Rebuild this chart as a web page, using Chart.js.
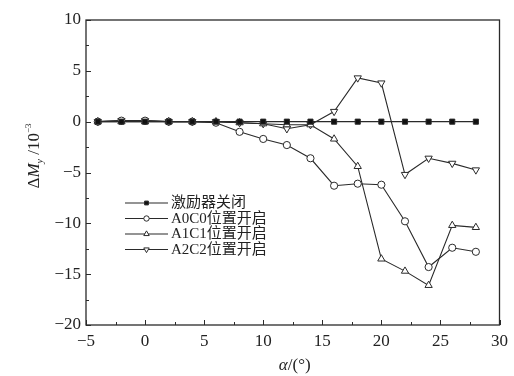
<!DOCTYPE html>
<html>
<head>
<meta charset="utf-8">
<script src="https://cdn.jsdelivr.net/npm/chart.js@4/dist/chart.umd.min.js"></script>
<style>
  html, body { margin: 0; padding: 0; background: #fff; }
  #wrap { width: 514px; height: 376px; }
</style>
</head>
<body>
<div id="wrap"><canvas id="c" width="514" height="376"></canvas></div>
<script>
// Angle of attack (deg)
const alpha = [-4, -2, 0, 2, 4, 6, 8, 10, 12, 14, 16, 18, 20, 22, 24, 26, 28];

// Rolling-moment increment, units of 1e-3
const actuatorOff = [0, 0, 0, 0, 0, 0, 0, 0, 0, 0, 0, 0, 0, 0, 0, 0, 0];
const a0c0 = [0, 0.1, 0.1, 0, 0, -0.1, -1.0, -1.7, -2.3, -3.6, -6.3, -6.1, -6.2, -9.8, -14.3, -12.4, -12.8];
const a1c1 = [0, 0, 0, 0, 0, 0, -0.1, -0.2, -0.3, -0.3, -1.7, -4.4, -13.5, -14.7, -16.1, -10.2, -10.4];
const a2c2 = [0, 0.1, 0.1, 0, 0, 0, -0.1, -0.2, -0.7, -0.3, 1.0, 4.3, 3.8, -5.2, -3.6, -4.1, -4.75];

const seriesNames = ['激励器关闭', 'A0C0位置开启', 'A1C1位置开启', 'A2C2位置开启'];

const xTicks = { min: -5, max: 30, step: 5 };
const yTicks = { min: -20, max: 10, step: 5 };

const LINE = '#2a2a2a';
const FONT = "'Liberation Serif'";
const CJK = "'Liberation Serif', 'Noto Sans CJK SC'";

function pts(ys) { return alpha.map((x, i) => ({ x: x, y: ys[i] })); }

const markerStyles = [
  { pointStyle: 'rect', rotation: 0, radius: 3.6, fill: '#111' },
  { pointStyle: 'circle', rotation: 0, radius: 3.6, fill: '#fff' },
  { pointStyle: 'triangle', rotation: 0, radius: 4.2, fill: '#fff' },
  { pointStyle: 'triangle', rotation: 180, radius: 4.2, fill: '#fff' }
];

const datasets = [actuatorOff, a0c0, a1c1, a2c2].map((ys, i) => ({
  label: seriesNames[i],
  data: pts(ys),
  borderColor: LINE,
  borderWidth: 1.1,
  pointStyle: markerStyles[i].pointStyle,
  rotation: markerStyles[i].rotation,
  pointRadius: markerStyles[i].radius,
  pointBackgroundColor: markerStyles[i].fill,
  pointBorderColor: LINE,
  pointBorderWidth: 1,
  tension: 0,
  fill: false
}));

// Frame, inward ticks, axis titles and in-plot legend
const decorations = {
  id: 'decorations',
  afterDraw(chart) {
    const ctx = chart.ctx;
    const a = chart.chartArea;
    const xs = chart.scales.x, ys = chart.scales.y;
    ctx.save();
    ctx.strokeStyle = LINE;
    ctx.lineWidth = 1.3;
    ctx.strokeRect(a.left, a.top, a.right - a.left, a.bottom - a.top);

    ctx.lineWidth = 1;
    ctx.beginPath();
    for (let v = xTicks.min; v <= xTicks.max + 1e-9; v += xTicks.step / 2) {
      const px = Math.round(xs.getPixelForValue(v)) + 0.5;
      const major = Math.abs(v / xTicks.step - Math.round(v / xTicks.step)) < 1e-6;
      const len = major ? 5 : 3;
      ctx.moveTo(px, a.bottom);
      ctx.lineTo(px, a.bottom - len);
    }
    for (let v = yTicks.min; v <= yTicks.max + 1e-9; v += yTicks.step / 2) {
      const py = Math.round(ys.getPixelForValue(v)) + 0.5;
      const major = Math.abs(v / yTicks.step - Math.round(v / yTicks.step)) < 1e-6;
      const len = major ? 5 : 3;
      ctx.moveTo(a.left, py);
      ctx.lineTo(a.left + len, py);
    }
    ctx.stroke();

    // x title: α/(°)
    ctx.fillStyle = '#222';
    ctx.textBaseline = 'alphabetic';
    const xt1 = 'α', xt2 = '/(°)';
    ctx.font = 'italic 17px ' + FONT;
    const w1 = ctx.measureText(xt1).width;
    ctx.font = '17px ' + FONT;
    const w2 = ctx.measureText(xt2).width;
    let sx = (a.left + a.right) / 2 - (w1 + w2) / 2 + 2;
    ctx.font = 'italic 17px ' + FONT;
    ctx.textAlign = 'left';
    ctx.fillText(xt1, sx, 370);
    ctx.font = '17px ' + FONT;
    ctx.fillText(xt2, sx + w1, 370);

    // y title: ΔM_y /10^-3, rotated
    ctx.save();
    ctx.translate(39, 156);
    ctx.rotate(-Math.PI / 2);
    const parts = [
      { t: 'Δ', f: '17px ' + FONT, dy: 0 },
      { t: 'M', f: 'italic 17px ' + FONT, dy: 0 },
      { t: 'y', f: 'italic 10px ' + FONT, dy: 4 },
      { t: ' /10', f: '17px ' + FONT, dy: 0 },
      { t: '−3', f: '9px ' + FONT, dy: -8 }
    ];
    let total = 0;
    parts.forEach(p => { ctx.font = p.f; p.w = ctx.measureText(p.t).width; total += p.w; });
    let cx = -total / 2;
    parts.forEach(p => { ctx.font = p.f; ctx.fillText(p.t, cx, p.dy); cx += p.w; });
    ctx.restore();

    // legend
    const lx0 = 125, lx1 = 168, tx = 171;
    const rows = [203, 218.5, 234, 249.5];
    chart.data.datasets.forEach((ds, i) => {
      const y = rows[i];
      ctx.strokeStyle = LINE;
      ctx.lineWidth = 1.1;
      ctx.beginPath();
      ctx.moveTo(lx0, y);
      ctx.lineTo(lx1, y);
      ctx.stroke();
      ctx.fillStyle = ds.pointBackgroundColor;
      ctx.lineWidth = 1;
      Chart.helpers.drawPoint(ctx, {
        pointStyle: ds.pointStyle,
        rotation: ds.rotation,
        radius: ds.pointRadius * 0.75,
        borderWidth: 1
      }, (lx0 + lx1) / 2, y);
      ctx.fillStyle = '#222';
      ctx.font = '15px ' + CJK;
      ctx.textAlign = 'left';
      ctx.textBaseline = 'middle';
      ctx.fillText(ds.label, tx, y + 0.5);
    });
    ctx.restore();
  }
};

const fmt = v => String(v).replace('-', '−');

function build() {
  new Chart(document.getElementById('c'), {
    type: 'line',
    data: { datasets: datasets },
    plugins: [decorations],
    options: {
      responsive: false,
      animation: false,
      devicePixelRatio: 1,
      layout: { padding: { top: 20, right: 11, left: 0, bottom: 0 } },
      plugins: { legend: { display: false }, tooltip: { enabled: false } },
      scales: {
        x: {
          type: 'linear',
          min: xTicks.min, max: xTicks.max,
          grid: { display: false, drawTicks: false },
          border: { display: false },
          ticks: {
            stepSize: xTicks.step, padding: 6, color: '#222',
            font: { family: FONT, size: 17 },
            callback: fmt, maxRotation: 0
          },
          afterFit(s) { s.height = 51; }
        },
        y: {
          type: 'linear',
          min: yTicks.min, max: yTicks.max,
          grid: { display: false, drawTicks: false },
          border: { display: false },
          ticks: {
            stepSize: yTicks.step, padding: 5, color: '#222',
            font: { family: FONT, size: 17 },
            callback: fmt
          },
          afterFit(s) { s.width = 86; }
        }
      }
    }
  });
}

Promise.all([
  document.fonts.load("17px 'Liberation Serif'"),
  document.fonts.load("italic 17px 'Liberation Serif'"),
  document.fonts.load("15px 'Noto Sans CJK SC'", '激励器关闭位置开启')
]).then(build, build);
</script>
</body>
</html>
